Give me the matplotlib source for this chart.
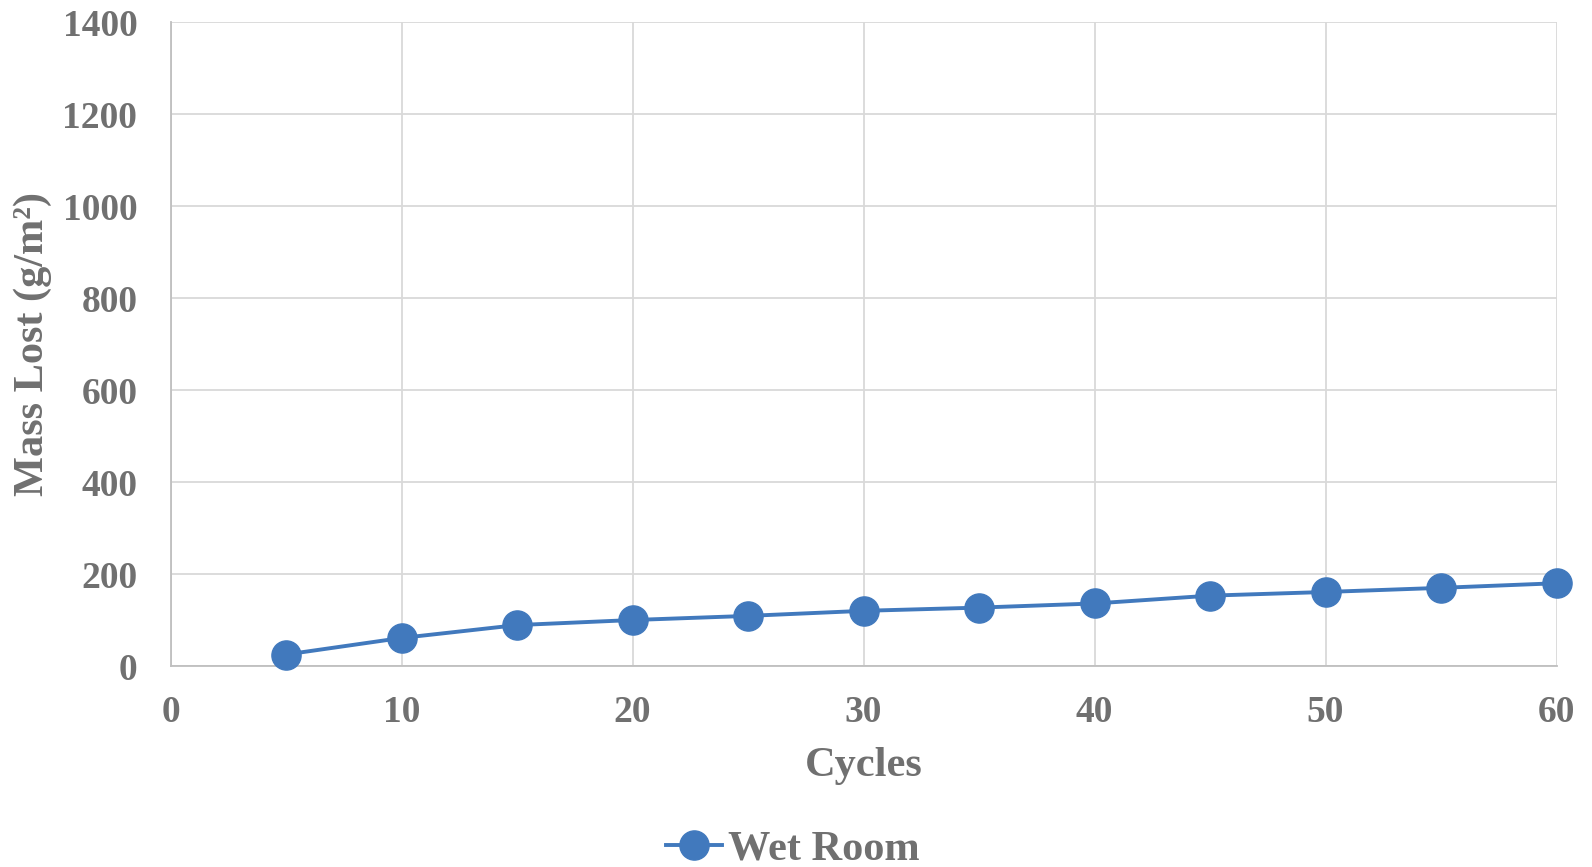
import matplotlib
matplotlib.use("Agg")
import matplotlib.pyplot as plt

cycles = [5, 10, 15, 20, 25, 30, 35, 40, 45, 50, 55, 60]
wet_room = [25, 61, 89, 100, 109, 120, 127, 136, 153, 161, 170, 180]
x_ticks = [0, 10, 20, 30, 40, 50, 60]
y_ticks = [0, 200, 400, 600, 800, 1000, 1200, 1400]

TEXT = "#707070"
GRID = "#D9D9D9"
BLUE = "#4179BD"
FONT = "Liberation Serif"

W, H = 1592, 867
fig = plt.figure(figsize=(W / 100, H / 100), dpi=100)
left, right, top, bottom = 170.6, 1556.5, 22.3, 666.0
ax = fig.add_axes([left / W, 1 - bottom / H, (right - left) / W, (bottom - top) / H])

ax.plot(cycles, wet_room, color=BLUE, lw=2.8, marker="o", markersize=21,
        markerfacecolor=BLUE, markeredgecolor=BLUE, label="Wet Room", zorder=3,
        clip_on=False)

ax.set_xlim(0, 60)
ax.set_ylim(0, 1400)
ax.set_xticks(x_ticks)
ax.set_yticks(y_ticks)
ax.grid(True, color=GRID, lw=1.3)
ax.set_axisbelow(True)
for s in ["top", "right"]:
    ax.spines[s].set_visible(False)
for s in ["left", "bottom"]:
    ax.spines[s].set_color("#BFBFBF")
    ax.spines[s].set_linewidth(1.3)
ax.tick_params(length=0)
ax.tick_params(axis="x", pad=21)
ax.tick_params(axis="y", pad=24)
for lab in ax.get_xticklabels() + ax.get_yticklabels():
    lab.set_fontfamily(FONT)
    lab.set_fontweight("bold")
    lab.set_fontsize(27)
    lab.set_color(TEXT)

ax.set_xlabel("Cycles", fontfamily=FONT, fontweight="bold", fontsize=30.5, color=TEXT)
ax.xaxis.set_label_coords(0.5, -0.155)
ax.xaxis.label.set_va("center")
ax.set_ylabel("Mass Lost (g/m²)", fontfamily=FONT, fontweight="bold", fontsize=30.5, color=TEXT)
ax.yaxis.set_label_coords(-0.0997, 0.5)
ax.yaxis.label.set_va("center")

leg = fig.legend(loc="center", bbox_to_anchor=(793 / W, 1 - 849 / H), frameon=False,
                 handlelength=1.3, handletextpad=0.15, borderpad=0.2,
                 prop={"family": FONT, "weight": "bold", "size": 30.5})
for t in leg.get_texts():
    t.set_color(TEXT)

fig.savefig("out.png", dpi=100)
